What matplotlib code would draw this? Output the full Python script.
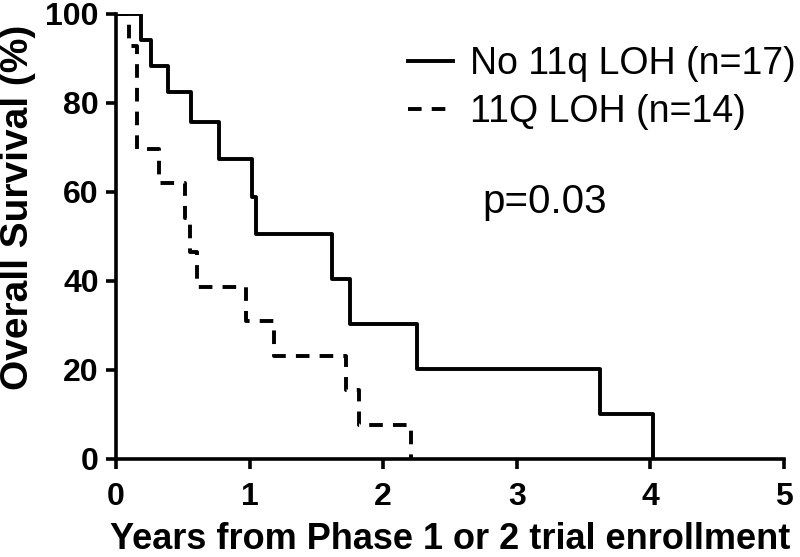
import matplotlib
matplotlib.use("Agg")
import matplotlib.pyplot as plt

# Kaplan-Meier step values
no_loh_years = [0, 0.19, 0.26, 0.39, 0.56, 0.77, 1.02, 1.05, 1.62, 1.75, 2.25, 3.62, 4.02]
no_loh_surv = [100, 94.1, 88.2, 82.4, 75.8, 67.4, 58.9, 50.5, 40.4, 30.3, 20.2, 10.1, 0]

loh_years = [0, 0.10, 0.155, 0.32, 0.52, 0.555, 0.605, 0.97, 1.18, 1.72, 1.82, 2.21]
loh_surv = [100, 92.9, 69.7, 62.0, 54.2, 46.5, 38.7, 31.0, 23.2, 15.5, 7.7, 0]

labels = ["No 11q LOH (n=17)", "11Q LOH (n=14)"]
x_ticks = [0, 1, 2, 3, 4, 5]
y_ticks = [0, 20, 40, 60, 80, 100]

plt.rcParams['font.family'] = ['Liberation Sans', 'DejaVu Sans']

fig = plt.figure(figsize=(8, 5.57), dpi=100)
ax = fig.add_axes([0.145, 0.176, 0.835, 0.799])

ax.step(no_loh_years, no_loh_surv, where='post', color='black', lw=2.8, label=labels[0])
ax.step(loh_years, loh_surv, where='post', color='black', lw=2.8,
        linestyle=(0, (3.5, 2.6)), label=labels[1])

ax.set_xlim(0, 5)
ax.set_ylim(0, 100)
ax.set_xticks(x_ticks)
ax.set_yticks(y_ticks)
ax.spines['top'].set_visible(False)
ax.spines['right'].set_visible(False)
ax.spines['left'].set_linewidth(2.6)
ax.spines['bottom'].set_linewidth(2.6)
ax.tick_params(width=2.6, length=7.5, labelsize=23)
ax.tick_params(axis='x', pad=9)
ax.tick_params(axis='y', pad=5)
for t in ax.get_xticklabels() + ax.get_yticklabels():
    t.set_fontweight('bold')

ax.set_xlabel('Years from Phase 1 or 2 trial enrollment', fontsize=26, fontweight='bold', labelpad=7)
ax.set_ylabel('Overall Survival (%)', fontsize=28, fontweight='bold', labelpad=4)
ax.yaxis.set_label_coords(-0.12, 0.565)

leg = ax.legend(loc='upper left', bbox_to_anchor=(0.51, 0.918), bbox_transform=fig.transFigure,
                frameon=False, fontsize=27, handlelength=1.2, handletextpad=0.45,
                labelspacing=0.32, borderaxespad=0, borderpad=0)

fig.text(0.603, 0.637, 'p=0.03', fontsize=29, va='center', ha='left')

fig.savefig('out.png', dpi=100)
